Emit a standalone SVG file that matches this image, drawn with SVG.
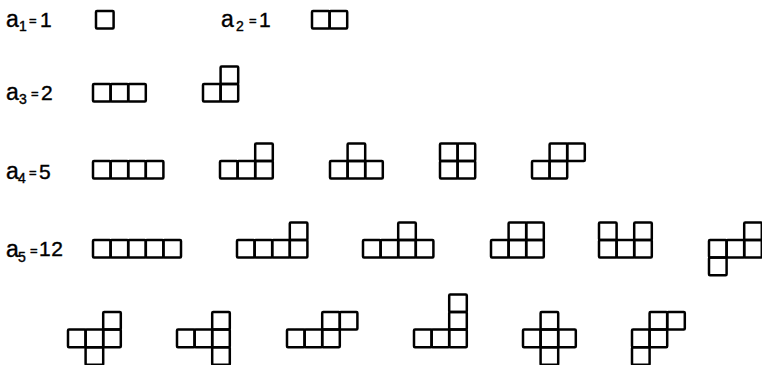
<svg xmlns="http://www.w3.org/2000/svg" xmlns:xlink="http://www.w3.org/1999/xlink" width="762" height="365" viewBox="0 0 762 365">
<style>
.c{fill:none;stroke:#000;stroke-width:2.5;stroke-linejoin:round}
text{font-family:"Liberation Sans",Arial,sans-serif;fill:#000;stroke:#000;stroke-width:0.4}
.a{font-size:23px}
.s{font-size:14px}
.e{font-size:13px}
.n{font-size:21px}
</style>
<defs>
<rect id="u" class="c" width="17.6" height="17.6" rx="1"/>
</defs>
<rect width="762" height="365" fill="#fff"/>
<g id="labels">
<text class="a" x="6" y="27">a</text><text class="s" x="19" y="31">1</text><text class="e" x="29" y="25">=</text><text class="n" x="40" y="27">1</text>
<text class="a" x="221" y="27">a</text><text class="s" x="236" y="31">2</text><text class="e" x="249" y="25">=</text><text class="n" x="259" y="27">1</text>
<text class="a" x="6" y="100">a</text><text class="s" x="19" y="104">3</text><text class="e" x="31" y="98">=</text><text class="n" x="41" y="100">2</text>
<text class="a" x="6" y="179">a</text><text class="s" x="18" y="183">4</text><text class="e" x="29" y="177">=</text><text class="n" x="39" y="179">5</text>
<text class="a" x="6" y="257">a</text><text class="s" x="18" y="262">5</text><text class="e" x="30" y="255">=</text><text class="n" x="39" y="256" letter-spacing="0.5">12</text>
</g>
<g id="p1"><use href="#u" x="96" y="11"/></g>
<g id="p2"><use href="#u" x="312" y="11"/><use href="#u" x="329.6" y="11"/></g>
<g id="p3a"><use href="#u" x="93" y="84"/><use href="#u" x="110.6" y="84"/><use href="#u" x="128.2" y="84"/></g>
<g id="p3b"><use href="#u" x="203" y="84"/><use href="#u" x="220.6" y="84"/><use href="#u" x="220.6" y="66.4"/></g>
<g id="p4a"><use href="#u" x="93" y="161"/><use href="#u" x="110.6" y="161"/><use href="#u" x="128.2" y="161"/><use href="#u" x="145.8" y="161"/></g>
<g id="p4b"><use href="#u" x="220" y="161"/><use href="#u" x="237.6" y="161"/><use href="#u" x="255.2" y="161"/><use href="#u" x="255.2" y="143.4"/></g>
<g id="p4c"><use href="#u" x="330" y="161"/><use href="#u" x="347.6" y="161"/><use href="#u" x="365.2" y="161"/><use href="#u" x="347.6" y="143.4"/></g>
<g id="p4d"><use href="#u" x="440" y="161"/><use href="#u" x="457.6" y="161"/><use href="#u" x="440" y="143.4"/><use href="#u" x="457.6" y="143.4"/></g>
<g id="p4e"><use href="#u" x="532" y="161"/><use href="#u" x="549.6" y="161"/><use href="#u" x="549.6" y="143.4"/><use href="#u" x="567.2" y="143.4"/></g>
<g id="p5a"><use href="#u" x="93" y="240"/><use href="#u" x="110.6" y="240"/><use href="#u" x="128.2" y="240"/><use href="#u" x="145.8" y="240"/><use href="#u" x="163.4" y="240"/></g>
<g id="p5b"><use href="#u" x="237" y="240"/><use href="#u" x="254.6" y="240"/><use href="#u" x="272.2" y="240"/><use href="#u" x="289.8" y="240"/><use href="#u" x="289.8" y="222.4"/></g>
<g id="p5c"><use href="#u" x="363" y="240"/><use href="#u" x="380.6" y="240"/><use href="#u" x="398.2" y="240"/><use href="#u" x="415.8" y="240"/><use href="#u" x="398.2" y="222.4"/></g>
<g id="p5d"><use href="#u" x="491" y="240"/><use href="#u" x="508.6" y="240"/><use href="#u" x="526.2" y="240"/><use href="#u" x="508.6" y="222.4"/><use href="#u" x="526.2" y="222.4"/></g>
<g id="p5e"><use href="#u" x="599" y="240"/><use href="#u" x="616.6" y="240"/><use href="#u" x="634.2" y="240"/><use href="#u" x="599" y="222.4"/><use href="#u" x="634.2" y="222.4"/></g>
<g id="p5f"><use href="#u" x="709" y="240"/><use href="#u" x="726.6" y="240"/><use href="#u" x="744.2" y="240"/><use href="#u" x="744.2" y="222.4"/><use href="#u" x="709" y="257.6"/></g>
<g id="p5g"><use href="#u" x="68" y="329.6"/><use href="#u" x="85.6" y="329.6"/><use href="#u" x="103.2" y="329.6"/><use href="#u" x="103.2" y="312"/><use href="#u" x="85.6" y="347.2"/></g>
<g id="p5h"><use href="#u" x="177" y="329.6"/><use href="#u" x="194.6" y="329.6"/><use href="#u" x="212.2" y="329.6"/><use href="#u" x="212.2" y="312"/><use href="#u" x="212.2" y="347.2"/></g>
<g id="p5i"><use href="#u" x="287" y="329.6"/><use href="#u" x="304.6" y="329.6"/><use href="#u" x="322.2" y="329.6"/><use href="#u" x="322.2" y="312"/><use href="#u" x="339.8" y="312"/></g>
<g id="p5j"><use href="#u" x="414" y="329.6"/><use href="#u" x="431.6" y="329.6"/><use href="#u" x="449.2" y="329.6"/><use href="#u" x="449.2" y="312"/><use href="#u" x="449.2" y="294.4"/></g>
<g id="p5k"><use href="#u" x="523" y="329.6"/><use href="#u" x="540.6" y="329.6"/><use href="#u" x="558.2" y="329.6"/><use href="#u" x="540.6" y="312"/><use href="#u" x="540.6" y="347.2"/></g>
<g id="p5l"><use href="#u" x="632" y="329.6"/><use href="#u" x="649.6" y="329.6"/><use href="#u" x="649.6" y="312"/><use href="#u" x="667.2" y="312"/><use href="#u" x="632" y="347.2"/></g>
</svg>
